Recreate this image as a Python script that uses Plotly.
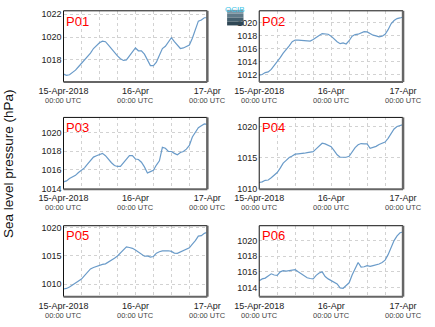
import pandas as pd
import plotly.graph_objects as go
from plotly.subplots import make_subplots

times = pd.date_range("2018-04-15 00:00", periods=49, freq="h")

p01 = [1016.75, 1016.65, 1016.7, 1016.9, 1017.1, 1017.4, 1017.7, 1017.95, 1018.3, 1018.6, 1019.0, 1019.25, 1019.5,
       1019.65, 1019.6, 1019.3, 1018.95, 1018.7, 1018.35, 1018.1, 1017.95, 1018.0, 1018.35, 1018.65, 1019.05,
       1018.8, 1018.8, 1018.5, 1018.0, 1017.5, 1017.5, 1017.8, 1018.4, 1019.0, 1019.2, 1019.6, 1019.95, 1019.6,
       1019.25, 1019.0, 1019.05, 1019.15, 1019.3, 1019.9, 1020.7, 1021.4, 1021.5, 1021.7, 1021.7]
p02 = [1011.9, 1012.0, 1012.3, 1012.4, 1012.8, 1013.4, 1013.9, 1014.6, 1015.3, 1015.8, 1016.4, 1017.05, 1017.3,
       1017.3, 1017.25, 1017.25, 1017.2, 1017.15, 1017.4, 1017.75, 1018.0, 1018.3, 1018.2, 1018.2, 1017.9,
       1017.45, 1017.05, 1016.75, 1016.85, 1016.7, 1017.2, 1017.9, 1018.15, 1018.2, 1018.35, 1018.6, 1018.55,
       1018.3, 1018.05, 1017.95, 1017.8, 1017.9, 1018.2, 1018.9, 1019.8, 1020.3, 1020.6, 1020.7, 1020.85]
p03 = [1014.7, 1014.8, 1015.05, 1015.2, 1015.4, 1015.7, 1015.95, 1016.2, 1016.6, 1017.0, 1017.35, 1017.5, 1017.6,
       1017.75, 1017.5, 1017.1, 1016.75, 1016.45, 1016.35, 1016.35, 1016.7, 1017.1, 1017.5, 1017.5, 1017.15,
       1017.1, 1016.8, 1016.3, 1015.65, 1015.8, 1015.95, 1016.5, 1016.95, 1018.4, 1018.3, 1017.95, 1017.95,
       1017.75, 1017.6, 1017.85, 1017.95, 1018.2, 1018.6, 1019.5, 1020.0, 1020.5, 1020.7, 1020.9, 1020.85]
p04 = [1011.0, 1011.1, 1011.35, 1011.4, 1011.75, 1012.1, 1012.6, 1013.3, 1014.1, 1014.55, 1015.0, 1015.25, 1015.55,
       1015.6, 1015.6, 1015.7, 1015.8, 1015.9, 1015.95, 1016.4, 1016.85, 1017.3, 1017.2, 1017.0, 1016.75,
       1016.1, 1015.45, 1015.05, 1015.0, 1015.05, 1015.2, 1016.0, 1016.6, 1017.05, 1017.25, 1017.2, 1017.2,
       1016.5, 1016.6, 1016.8, 1017.1, 1017.3, 1017.5, 1018.1, 1018.8, 1019.6, 1020.0, 1020.2, 1020.3]
p05 = [1009.15, 1009.25, 1009.5, 1009.85, 1010.25, 1010.6, 1010.9, 1011.5, 1012.15, 1012.7, 1012.95, 1013.15,
       1013.4, 1013.5, 1013.6, 1013.9, 1014.25, 1014.6, 1015.0, 1015.55, 1016.1, 1016.6, 1016.5, 1016.35,
       1016.05, 1015.7, 1015.35, 1014.95, 1015.0, 1014.8, 1014.9, 1015.5, 1015.75, 1015.9, 1015.9, 1015.92,
       1015.8, 1015.5, 1015.45, 1015.7, 1015.95, 1016.1, 1016.45, 1017.1, 1017.7, 1018.5, 1018.6, 1019.0, 1019.2]
p06 = [1014.85, 1015.1, 1015.2, 1015.45, 1015.75, 1015.6, 1015.55, 1016.0, 1016.15, 1016.1, 1016.15, 1016.2,
       1016.28, 1016.0, 1015.75, 1015.4, 1015.25, 1015.15, 1015.1, 1015.55, 1015.85, 1016.0, 1015.4, 1015.1,
       1014.85, 1014.7, 1014.45, 1013.95, 1013.9, 1014.25, 1014.6, 1015.6, 1016.4, 1017.2, 1016.6, 1016.65,
       1016.8, 1016.7, 1016.8, 1016.9, 1017.0, 1017.2, 1017.5, 1018.2, 1019.2, 1020.0, 1020.6, 1021.0, 1021.1]

stations = ["P01", "P02", "P03", "P04", "P05", "P06"]
series = [p01, p02, p03, p04, p05, p06]
y_ranges = [[1016.06, 1022.31], [1010.85, 1021.8], [1013.9, 1021.6],
            [1009.9, 1021.45], [1007.8, 1020.35], [1012.83, 1021.9]]
y_dticks = [2, 2, 2, 5, 5, 2]
x_tickvals = ["2018-04-15 00:00", "2018-04-16 00:00", "2018-04-17 00:00"]
x_ticktext = ["15-Apr-2018", "16-Apr", "17-Apr"]
x_subtext = "00:00 UTC"
y_title = "Sea level pressure (hPa)"

W, H = 435, 327
col_px = [(42.3, 200.3), (257.3, 415.3)]
row_px = [(8, 81), (117.3, 191), (228.3, 301)]

fig = make_subplots(rows=3, cols=2)

line_color = "#6a9bc9"
grid_color = "#d2d2d2"
font_fam = "Liberation Sans, Arial"

for i, (name, vals) in enumerate(zip(stations, series)):
    r, c = i // 2 + 1, i % 2 + 1
    fig.add_trace(go.Scatter(x=times, y=vals, mode="lines",
                             line=dict(color=line_color, width=1.2),
                             showlegend=False, hoverinfo="skip"), row=r, col=c)
    k = "" if i == 0 else str(i + 1)
    x0, x1 = col_px[c - 1]
    yt, yb = row_px[r - 1]
    fig.layout["xaxis" + k].update(
        domain=[x0 / W, x1 / W],
        range=["2018-04-15 00:00", "2018-04-17 00:00"],
        tickvals=x_tickvals, ticktext=x_ticktext,
        tickfont=dict(family=font_fam, size=9, color="#222"),
        showgrid=True, gridcolor=grid_color, griddash="dot", gridwidth=1,
        minor=dict(dtick=6 * 3600 * 1000, tick0="2018-04-15 00:00", showgrid=True,
                   gridcolor=grid_color, griddash="dot", gridwidth=1),
        zeroline=False, showline=False, ticks="", fixedrange=True,
        ticklabelstandoff=2,
    )
    fig.layout["yaxis" + k].update(
        domain=[1 - yb / H, 1 - yt / H],
        range=y_ranges[i], dtick=y_dticks[i], tick0=1000,
        tickfont=dict(family=font_fam, size=9, color="#222"),
        showgrid=True, gridcolor=grid_color, griddash="dot", gridwidth=1,
        zeroline=False, showline=False, ticks="", ticklabelstandoff=1,
    )
    xr = "x" + k + " domain"
    yr = "y" + k + " domain"
    xd = "x" + k
    for tv in x_tickvals:
        fig.add_annotation(xref=xd, yref="paper", x=tv, y=1 - (yb + 19) / H,
                           text=x_subtext, showarrow=False, xanchor="center", yanchor="middle",
                           font=dict(family=font_fam, size=7.5, color="#444"))
    # frame: thin black top/left, thick grey right/bottom
    fig.add_shape(type="line", xref=xr, yref=yr, x0=0, x1=1, y0=1, y1=1,
                  line=dict(color="#111", width=1))
    fig.add_shape(type="line", xref=xr, yref=yr, x0=0, x1=0, y0=0, y1=1,
                  line=dict(color="#111", width=1))
    fig.add_shape(type="line", xref=xr, yref=yr, x0=1, x1=1, y0=0, y1=1,
                  line=dict(color="#666", width=2.5))
    fig.add_shape(type="line", xref=xr, yref=yr, x0=0, x1=1, y0=0, y1=0,
                  line=dict(color="#666", width=2))
    fig.add_annotation(xref=xr, yref=yr, x=0.005, y=0.99, xanchor="left", yanchor="top",
                       text=name, showarrow=False,
                       font=dict(family=font_fam, size=13, color="#ff0000"))

fig.add_annotation(xref="paper", yref="paper", x=10 / W, y=1 - 165 / H, text=y_title,
                   textangle=-90, showarrow=False, xanchor="center", yanchor="middle",
                   xshift=-25,
                   font=dict(family=font_fam, size=13.5, color="#111"))

# partial logo at top centre
logo_cols = ["#7d97a5", "#5f7a89", "#45606f", "#2f4755"]
for j, col in enumerate(logo_cols):
    fig.add_shape(type="rect", xref="paper", yref="paper",
                  x0=222 / W, x1=240 / W, y0=1 - (7 + 4 * (j + 1)) / H, y1=1 - (7 + 4 * j) / H,
                  line=dict(width=0), fillcolor=col, layer="above")
fig.add_annotation(xref="paper", yref="paper", x=231 / W, y=1 - 0.5 / H, text="OCIB",
                   showarrow=False, xanchor="center", yanchor="top",
                   font=dict(family=font_fam, size=8, color="#3cc3e6"))

fig.update_layout(width=W, height=H, margin=dict(l=0, r=0, t=0, b=0),
                  paper_bgcolor="white", plot_bgcolor="white")

fig.write_html("out.html")
